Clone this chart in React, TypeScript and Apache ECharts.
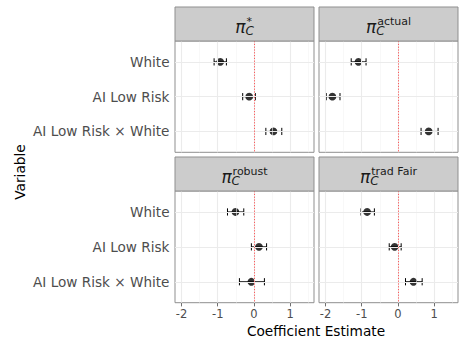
import React, { useEffect, useRef } from "react";
import * as echarts from "echarts";

const CATEGORIES = ["White", "AI Low Risk", "AI Low Risk × White"];
const PANEL_SUPS = ["*", "actual", "robust", "trad Fair"];
const X_TICKS = [-2, -1, 0, 1];
const X_MINOR = [-1.5, -0.5, 0.5, 1.5];

// estimates, lower and upper bounds per panel (order of CATEGORIES)
const STAR_EST = [-0.93, -0.13, 0.54];
const STAR_LO = [-1.1, -0.31, 0.33];
const STAR_HI = [-0.76, 0.04, 0.77];
const ACTUAL_EST = [-1.09, -1.81, 0.85];
const ACTUAL_LO = [-1.29, -1.98, 0.64];
const ACTUAL_HI = [-0.88, -1.6, 1.11];
const ROBUST_EST = [-0.51, 0.14, -0.07];
const ROBUST_LO = [-0.73, -0.07, -0.4];
const ROBUST_HI = [-0.28, 0.35, 0.29];
const TRAD_EST = [-0.85, -0.09, 0.43];
const TRAD_LO = [-1.02, -0.24, 0.21];
const TRAD_HI = [-0.65, 0.09, 0.67];

const PANEL_DATA = [
  [STAR_EST, STAR_LO, STAR_HI],
  [ACTUAL_EST, ACTUAL_LO, ACTUAL_HI],
  [ROBUST_EST, ROBUST_LO, ROBUST_HI],
  [TRAD_EST, TRAD_LO, TRAD_HI],
];

const FONT = '"DejaVu Sans", Verdana, sans-serif';

function measure(txt: string, font: string) {
  const c = document.createElement("canvas").getContext("2d")!;
  c.font = font;
  return c.measureText(txt).width;
}

export default function App() {
  const ref = useRef<HTMLDivElement>(null);
  useEffect(() => {
    const chart = echarts.init(ref.current!, null, { renderer: "svg" });
    const cols = [
      { left: 175, width: 139 },
      { left: 319, width: 139 },
    ];
    const rows = [
      { top: 41, height: 111.3, stripTop: 7 },
      { top: 191, height: 111.7, stripTop: 157 },
    ];
    const grids: any[] = [];
    const xAxes: any[] = [];
    const yAxes: any[] = [];
    const series: any[] = [];
    const graphics: any[] = [];
    const yPos = CATEGORIES.map((_, i) => i + 1);

    for (let p = 0; p < 4; p++) {
      const c = cols[p % 2];
      const r = rows[Math.floor(p / 2)];
      const isLeft = p % 2 === 0;
      const isBottom = p >= 2;
      grids.push({
        left: c.left,
        top: r.top,
        width: c.width,
        height: r.height,
        show: true,
        backgroundColor: "#ffffff",
        borderColor: "#8f8f8f",
        borderWidth: 1,
      });
      xAxes.push({
        type: "value",
        gridIndex: p,
        min: -2.18,
        max: 1.66,
        splitLine: { show: false },
        axisLine: { show: false },
        axisTick: {
          show: isBottom,
          customValues: X_TICKS,
          length: 3.7,
          lineStyle: { color: "#707070", width: 1 },
        },
        axisLabel: {
          show: isBottom,
          customValues: X_TICKS,
          color: "#4d4d4d",
          fontSize: 11.5,
          fontFamily: FONT,
          margin: 5,
          formatter: (v: number) => String(v),
        },
      });
      yAxes.push({
        type: "value",
        gridIndex: p,
        min: 0.4,
        max: 3.6,
        inverse: true,
        splitLine: { show: false },
        axisLine: { show: false },
        axisTick: {
          show: isLeft,
          customValues: yPos,
          length: 3.7,
          lineStyle: { color: "#707070", width: 1 },
        },
        axisLabel: {
          show: isLeft,
          customValues: yPos,
          color: "#4d4d4d",
          fontSize: 13.6,
          fontFamily: FONT,
          margin: 5.5,
          formatter: (v: number) => CATEGORIES[Math.round(v) - 1] || "",
        },
      });
      const [est, lo, hi] = PANEL_DATA[p];
      series.push({
        type: "line",
        xAxisIndex: p,
        yAxisIndex: p,
        data: [],
        z: 1,
        silent: true,
        markLine: {
          silent: true,
          symbol: ["none", "none"],
          label: { show: false },
          emphasis: { disabled: true },
          animation: false,
          data: [
            ...X_MINOR.map((v) => ({ xAxis: v, lineStyle: { color: "#f4f4f4", width: 0.6, type: "solid" } })),
            ...X_TICKS.map((v) => ({ xAxis: v, lineStyle: { color: "#ebebeb", width: 1.1, type: "solid" } })),
            ...yPos.map((v) => ({ yAxis: v, lineStyle: { color: "#ebebeb", width: 1.1, type: "solid" } })),
            { xAxis: 0, lineStyle: { color: "#ff4a4a", width: 0.9, type: [1.2, 1.6] } },
          ],
        },
      });
      series.push({
        type: "custom",
        xAxisIndex: p,
        yAxisIndex: p,
        z: 2,
        silent: true,
        encode: { x: [0, 1], y: 2 },
        data: lo.map((l, i) => [l, hi[i], yPos[i]]),
        renderItem: (params: any, api: any) => {
          const y = api.value(2);
          const a = api.coord([api.value(0), y]);
          const b = api.coord([api.value(1), y]);
          const h = 3.6;
          const style = { stroke: "#000", lineWidth: 1 };
          return {
            type: "group",
            children: [
              { type: "line", shape: { x1: a[0], y1: a[1], x2: b[0], y2: b[1] }, style },
              { type: "line", shape: { x1: a[0], y1: a[1] - h, x2: a[0], y2: a[1] + h }, style },
              { type: "line", shape: { x1: b[0], y1: b[1] - h, x2: b[0], y2: b[1] + h }, style },
            ],
          };
        },
      });
      series.push({
        type: "scatter",
        xAxisIndex: p,
        yAxisIndex: p,
        z: 3,
        silent: true,
        symbol: "circle",
        symbolSize: 7.8,
        itemStyle: { color: "#000" },
        data: est.map((e, i) => [e, yPos[i]]),
      });

      // strip
      graphics.push({
        type: "rect",
        shape: { x: c.left, y: r.stripTop, width: c.width, height: r.top - r.stripTop },
        style: { fill: "#cccccc", stroke: "#8f8f8f", lineWidth: 1 },
        z: 10,
      });
      const piFont = `italic 17px ${FONT}`;
      const cFont = `italic 12px ${FONT}`;
      const supFont = `11px ${FONT}`;
      const piW = measure("π", piFont);
      const cW = measure("C", cFont);
      const supW = measure(PANEL_SUPS[p], supFont) + 1;
      const total = piW + Math.max(cW, supW);
      const x0 = c.left + c.width / 2 - total / 2;
      const piBase = r.stripTop + 25.5;
      const cBase = r.stripTop + 28;
      const supBase = r.stripTop + 18.5;
      graphics.push({
        type: "text",
        x: x0,
        y: piBase - 0.35 * 17,
        z: 11,
        style: { text: "π", font: piFont, fill: "#1a1a1a", align: "left", verticalAlign: "middle", lineHeight: 12 },
      });
      graphics.push({
        type: "text",
        x: x0 + piW,
        y: cBase - 0.35 * 12,
        z: 11,
        style: { text: "C", font: cFont, fill: "#1a1a1a", align: "left", verticalAlign: "middle", lineHeight: 9 },
      });
      graphics.push({
        type: "text",
        x: x0 + piW + 1,
        y: supBase - 0.35 * 11,
        z: 11,
        style: { text: PANEL_SUPS[p], font: supFont, fill: "#1a1a1a", align: "left", verticalAlign: "middle", lineHeight: 8 },
      });
    }

    graphics.push({
      type: "text",
      x: 20,
      y: 172,
      rotation: Math.PI / 2,
      z: 11,
      style: { text: "Variable", font: `13.7px ${FONT}`, fill: "#000", align: "center", verticalAlign: "middle" },
    });
    graphics.push({
      type: "text",
      x: 316,
      y: 331,
      z: 11,
      style: {
        text: "Coefficient Estimate",
        font: `13.7px ${FONT}`,
        fill: "#000",
        align: "center",
        verticalAlign: "middle",
      },
    });

    chart.setOption({
      animation: false,
      backgroundColor: "#ffffff",
      grid: grids,
      xAxis: xAxes,
      yAxis: yAxes,
      series,
      graphic: { elements: graphics },
    });
    return () => chart.dispose();
  }, []);
  return (
    <div
      ref={ref}
      style={{ position: "absolute", left: 0, top: 0, width: 462, height: 341 }}
    />
  );
}
